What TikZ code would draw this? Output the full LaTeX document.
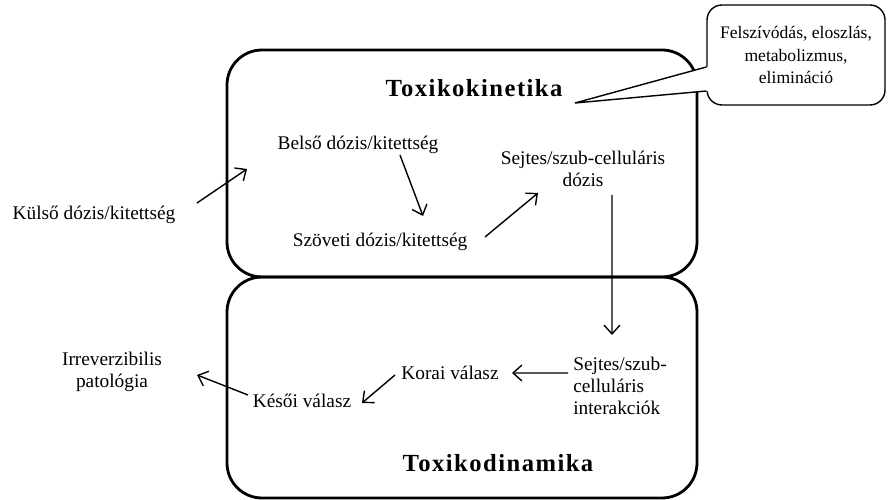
\documentclass[tikz,border=0pt]{standalone}
\usepackage{fontspec}
\setmainfont{Liberation Serif}
\usetikzlibrary{calc}
\usetikzlibrary{arrows.meta}

\tikzset{
  doboz/.style={draw, line width=1.6pt, rounded corners=0.7cm, minimum width=9.4cm},
  cim/.style={font=\fontsize{14}{17}\selectfont\bfseries\addfontfeature{LetterSpace=6}},
  szoveg/.style={font=\fontsize{11}{12.7}\selectfont, align=center, inner sep=1pt},
  nyil/.style={->, >={Straight Barb[length=5pt,width=9pt]}, thick},
}

\begin{document}
\begin{tikzpicture}
            \useasboundingbox (0,0) rectangle (17.76,10);
            % the two stages
            \node [doboz, minimum height=4.54cm] (kinetika) at (9.24,6.73) {};
            \node [doboz, minimum height=4.42cm] (dinamika) at (9.24,2.25) {};
            \node [cim] (kinetikacim) at (9.48,8.24) {Toxikokinetika};
            \node [cim] (dinamikacim) at (9.96,0.74) {Toxikodinamika};

            \node [szoveg] (kulso) at (1.88,5.70) {Külső dózis/kitettség};
            \node [szoveg] (belso) at (7.16,7.10) {Belső dózis/kitettség};
            \node [szoveg] (szoveti) at (7.60,5.16) {Szöveti dózis/kitettség};
            \node [szoveg] (sejtdozis) at (11.66,6.62) {Sejtes/szub-celluláris\\dózis};
            \node [szoveg, align=left] (interakcio) at (12.40,2.28) {Sejtes/szub-\\celluláris\\interakciók};
            \node [szoveg] (korai) at (9.0,2.54) {Korai válasz};
            \node [szoveg] (kesoi) at (6.04,1.98) {Késői válasz};
            \node [szoveg] (irrev) at (2.24,2.56) {Irreverzibilis\\patológia};

            \draw [nyil] ([shift={(2.06,0.24)}]kulso.center) -- ([shift={(-2.22,-0.48)}]belso.center);
            \draw [nyil] ([shift={(0.84,-0.20)}]belso.center) -- ([shift={(0.86,0.52)}]szoveti.center);
            \draw [nyil] ([shift={(2.10,0.10)}]szoveti.center) -- ([shift={(-0.90,-0.48)}]sejtdozis.center);
            \draw [nyil] ([shift={(0.58,-0.52)}]sejtdozis.center) -- ([shift={(-0.16,1.02)}]interakcio.center);
            \draw [nyil] ([shift={(-1.04,0.26)}]interakcio.center) -- ([shift={(1.24,0)}]korai.center);
            \draw [nyil] ([shift={(-1.10,-0.04)}]korai.center) -- ([shift={(1.20,-0.04)}]kesoi.center);
            \draw [nyil] ([shift={(-1.08,0.12)}]kesoi.center) -- ([shift={(1.70,-0.06)}]irrev.center);

            % callout
            \node [draw, thick, fill=white, rounded corners=0.3cm, minimum width=3.56cm, minimum height=2cm,
                   font=\fontsize{10}{13}\selectfont, align=center] (felszivodas) at (15.92,8.9)
                  {Felszívódás, eloszlás,\\metabolizmus,\\elimináció};
            \coordinate (csucs) at (11.5,7.94);
            \fill [white] ($(felszivodas.west)+(0.04,-0.24)$) -- (csucs) -- ($(felszivodas.west)+(0.04,-0.72)$) -- cycle;
            \draw [thick] ($(felszivodas.west)+(0,-0.24)$) -- (csucs) -- ($(felszivodas.west)+(0,-0.72)$);
        \end{tikzpicture}
\end{document}
